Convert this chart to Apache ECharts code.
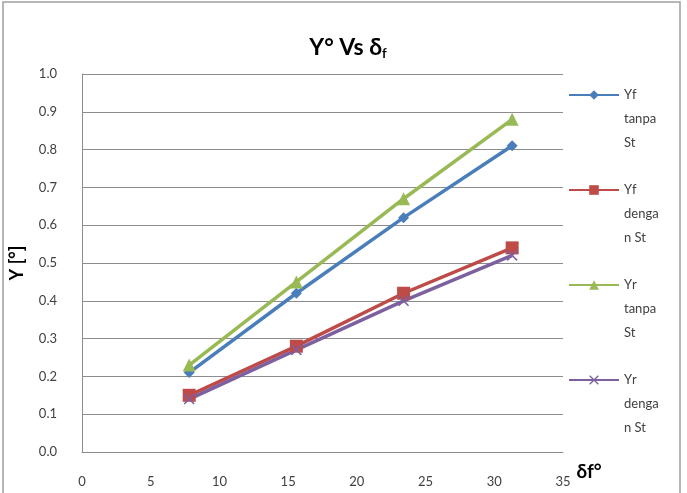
<!DOCTYPE html>
<html>
<head>
<meta charset="utf-8">
<script src="https://cdn.jsdelivr.net/npm/echarts@6/dist/echarts.min.js"></script>
<style>
  html, body { margin: 0; padding: 0; background: #fff; }
  #main { width: 687px; height: 493px; }
</style>
</head>
<body>
<div id="main"></div>
<script>
// sudut delta f (x)
var deltaF = [7.8, 15.6, 23.4, 31.3];
// nilai gamma per seri
var yfTanpa = [0.21, 0.42, 0.62, 0.81];
var yfDengan = [0.15, 0.28, 0.42, 0.54];
var yrTanpa = [0.23, 0.45, 0.67, 0.88];
var yrDengan = [0.14, 0.27, 0.40, 0.52];
var seriesNames = ["Υf tanpa St", "Υf dengan St", "Υr tanpa St", "Υr dengan St"];
// teks legend dipotong seperti di Excel
var legendText = ["Υf\ntanpa\nSt", "Υf\ndenga\nn St", "Υr\ntanpa\nSt", "Υr\ndenga\nn St"];
var legendY = [95, 190, 285, 380];

var font = "Lato, 'DejaVu Sans', sans-serif";
var xCross = "path://M0,1L1,0L5,4L9,0L10,1L6,5L10,9L9,10L5,6L1,10L0,9L4,5Z";

function pairs(vals) {
  return vals.map(function (v, i) {
    return [deltaF[i], v];
  });
}

var legends = seriesNames.map(function (name, i) {
  return {
    data: [name],
    orient: "vertical",
    left: 568,
    top: legendY[i] - 60,
    padding: 0,
    itemWidth: 50,
    itemHeight: 12,
    formatter: function () {
      return "\n\n" + legendText[i];
    },
    textStyle: {
      fontFamily: font,
      fontSize: 13,
      color: "#404040",
      lineHeight: 24,
    },
  };
});

var chart = echarts.init(document.getElementById("main"));
chart.setOption({
  animation: false,
  textStyle: { fontFamily: font },
  title: {
    text: "{a|Υ° Vs δ}{b|f}",
    left: 343,
    textAlign: "center",
    top: 30,
    textStyle: {
      rich: {
        a: { fontSize: 23, fontWeight: "bold", color: "#000", fontFamily: font },
        b: { fontSize: 13, fontWeight: "bold", color: "#000", fontFamily: font, padding: [12, 0, 0, 0] },
      },
    },
  },
  legend: legends,
  grid: {
    left: 78,
    right: 124,
    top: 74,
    bottom: 41,
  },
  xAxis: {
    type: "value",
    min: 0,
    max: 35,
    interval: 5,
    name: "δf°",
    nameLocation: "end",
    nameGap: 9,
    nameTextStyle: {
      fontFamily: font,
      fontSize: 19,
      fontWeight: "bold",
      color: "#000",
      verticalAlign: "top",
      padding: [10, 0, 0, 0],
    },
    axisLine: { lineStyle: { color: "#8c8c8c", width: 1 } },
    axisTick: { show: false },
    splitLine: { show: false },
    axisLabel: {
      margin: 23,
      fontSize: 13,
      color: "#404040",
      fontFamily: font,
    },
  },
  yAxis: {
    type: "value",
    min: 0,
    max: 1,
    interval: 0.1,
    name: "Υ [°]",
    nameLocation: "middle",
    nameRotate: 90,
    nameGap: 56,
    nameTextStyle: {
      fontFamily: font,
      fontSize: 18,
      fontWeight: "bold",
      color: "#000",
    },
    axisLine: { show: true, lineStyle: { color: "#8c8c8c", width: 1 } },
    axisTick: { show: false },
    splitLine: { lineStyle: { color: "#8c8c8c", width: 1.2 } },
    axisLabel: {
      margin: 25,
      fontSize: 13,
      color: "#404040",
      fontFamily: font,
      formatter: function (v) {
        return v.toFixed(1);
      },
    },
  },
  graphic: [
    {
      type: "rect",
      shape: { x: 3, y: 2, width: 677, height: 500 },
      style: { fill: "none", stroke: "#a0a0a0", lineWidth: 1.5 },
      silent: true,
    },
  ],
  series: [
    {
      name: seriesNames[0],
      type: "line",
      data: pairs(yfTanpa),
      color: "#4a7ebb",
      symbol: "diamond",
      symbolSize: 11,
      lineStyle: { width: 3.5 },
    },
    {
      name: seriesNames[1],
      type: "line",
      data: pairs(yfDengan),
      color: "#be4b48",
      symbol: "rect",
      symbolSize: 13,
      lineStyle: { width: 3.5 },
    },
    {
      name: seriesNames[2],
      type: "line",
      data: pairs(yrTanpa),
      color: "#98b954",
      symbol: "triangle",
      symbolSize: 13,
      lineStyle: { width: 3.5 },
    },
    {
      name: seriesNames[3],
      type: "line",
      data: pairs(yrDengan),
      color: "#7d60a0",
      symbol: xCross,
      symbolSize: 11,
      lineStyle: { width: 3.5 },
    },
  ],
});
</script>
</body>
</html>
